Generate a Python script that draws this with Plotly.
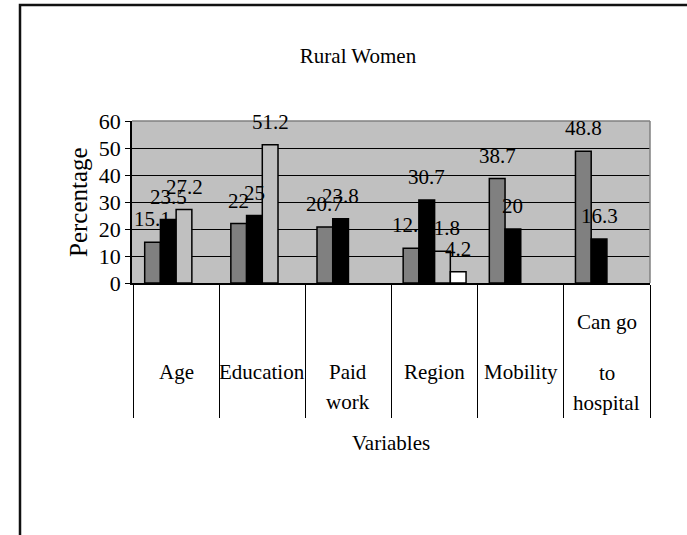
import plotly.graph_objects as go

categories = ["Age", "Education", "Paid work", "Region", "Mobility", "Can go to hospital"]
series1 = [15.1, 22, 20.7, 12.9, 38.7, 48.8]
series2 = [23.5, 25, 23.8, 30.7, 20, 16.3]
series3 = [27.2, 51.2, None, 11.8, None, None]
series4 = [None, None, None, 4.2, None, None]
series_names = ["Series 1", "Series 2", "Series 3", "Series 4"]
y_ticks = [0, 10, 20, 30, 40, 50, 60]

# label lines for the category axis (text, y pixel offset below the axis)
cat_label_lines = {
    "Age": [("Age", 89)],
    "Education": [("Education", 89)],
    "Paid work": [("Paid", 89), ("work", 119)],
    "Region": [("Region", 89)],
    "Mobility": [("Mobility", 89)],
    "Can go to hospital": [("Can go", 39), ("to", 90), ("hospital", 120)],
}

W, H = 687, 535
ML, MR, MT, MB = 132, 37, 121, 252
FONT = "Liberation Serif, Times New Roman, serif"
FS = 21
colors = ["#808080", "#000000", "#c0c0c0", "#ffffff"]
bargap = 0.27

all_series = [series1, series2, series3, series4]

fig = go.Figure()
for name, vals, col in zip(series_names, all_series, colors):
    fig.add_trace(go.Bar(
        x=categories, y=vals, name=name,
        marker=dict(color=col, line=dict(color="#000000", width=1.5)),
        showlegend=False,
    ))

plot_w = W - ML - MR
cat_w = plot_w / len(categories)
bar_w = cat_w * (1 - bargap) / 4

annotations = []
for i, vals in enumerate(all_series):
    for c, v in zip(categories, vals):
        if v is None:
            continue
        annotations.append(dict(
            x=c, y=v, xref="x", yref="y", text=f"{v:g}", showarrow=False,
            xanchor="center", yanchor="bottom",
            xshift=(i - 1.5) * bar_w, yshift=9,
            font=dict(family=FONT, size=FS, color="#000000"),
        ))

for c in categories:
    for txt, off in cat_label_lines[c]:
        annotations.append(dict(
            x=c, y=0, xref="x", yref="paper", text=txt, showarrow=False,
            xanchor="center", yanchor="middle", yshift=-off,
            font=dict(family=FONT, size=FS, color="#000000"),
        ))

annotations.append(dict(
    x=0.5, y=0, xref="paper", yref="paper", text="Variables", showarrow=False,
    xanchor="center", yanchor="middle", yshift=-160,
    font=dict(family=FONT, size=FS, color="#000000"),
))
annotations.append(dict(
    x=0, y=0.5, xref="paper", yref="paper", text="Percentage", showarrow=False,
    xanchor="center", yanchor="middle", xshift=-54, textangle=-90,
    font=dict(family=FONT, size=25, color="#000000"),
))

shapes = [
    # gray border top and right of plot area
    dict(type="line", xref="paper", yref="paper", x0=0, x1=1, y0=1, y1=1,
         line=dict(color="#808080", width=1.5), layer="above"),
    dict(type="line", xref="paper", yref="paper", x0=1, x1=1, y0=0, y1=1,
         line=dict(color="#808080", width=1.5), layer="above"),
    # outer chart frame
    dict(type="rect", xref="paper", yref="paper",
         x0=(20 - ML) / plot_w, x1=3,
         y0=-5, y1=1 + (MT - 5) / (H - MT - MB),
         line=dict(color="#111111", width=2.5), layer="above"),
]

fig.update_layout(
    width=W, height=H,
    margin=dict(l=ML, r=MR, t=MT, b=MB, autoexpand=False),
    paper_bgcolor="#ffffff", plot_bgcolor="#c0c0c0",
    barmode="group", bargap=bargap, bargroupgap=0,
    font=dict(family=FONT, size=FS, color="#000000"),
    title=dict(text="Rural Women", x=358 / W, xanchor="center",
               y=1 - 56 / H, yanchor="middle", yref="container",
               font=dict(family=FONT, size=FS, color="#000000")),
    annotations=annotations,
    shapes=shapes,
    xaxis=dict(
        type="category", showticklabels=False, tickson="boundaries",
        ticks="outside", ticklen=133, tickwidth=1, tickcolor="#000000",
        showline=True, linecolor="#000000", linewidth=1.5,
        showgrid=False, zeroline=False,
    ),
    yaxis=dict(
        range=[0, 60], tickvals=y_ticks, ticks="outside", ticklen=5,
        tickwidth=1, tickcolor="#000000",
        showline=True, linecolor="#000000", linewidth=1.5,
        showgrid=True, gridcolor="#000000", gridwidth=1, zeroline=False,
        tickfont=dict(family=FONT, size=22, color="#000000"),
    ),
)

fig.write_html("out.html", config={"displayModeBar": False},
               post_script="document.body.style.margin='0px';")
